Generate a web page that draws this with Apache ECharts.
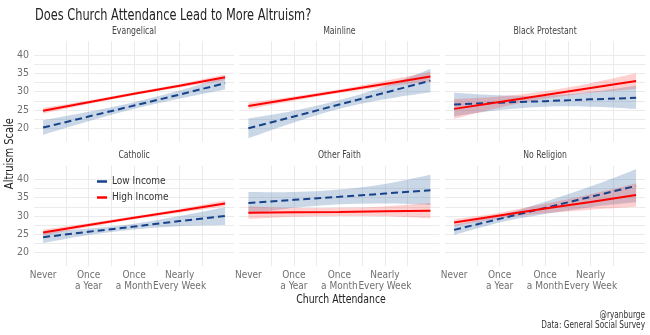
<!DOCTYPE html>
<html>
<head>
<meta charset="utf-8">
<script src="https://cdn.jsdelivr.net/npm/echarts@6/dist/echarts.min.js"></script>
<style>
  html, body { margin: 0; padding: 0; background: #ffffff; }
  #chart { width: 650px; height: 335px; }
</style>
</head>
<body>
<div id="chart"></div>
<script>
// Church attendance (0 = never ... 8 = more than weekly), fitted at these points
const attendX = [0, 2, 4, 6, 8];
const attendTicks = [0, 2, 4, 6];
const attendLabels = ['Never', 'Once\na Year', 'Once\na Month', 'Nearly\nEvery Week'];
const attendGrid = [0, 1, 2, 3, 4, 5, 6, 7, 8];
const altruismTicks = [20, 25, 30, 35, 40];
const altruismGrid = [17.5, 20, 22.5, 25, 27.5, 30, 32.5, 35, 37.5, 40, 42.5];

const traditions = ['Evangelical', 'Mainline', 'Black Protestant', 'Catholic', 'Other Faith', 'No Religion'];

// Low income: fitted altruism scale and 95% band, one row per tradition
const lowFit = [
  [20.2, 23.2, 26.2, 29.2, 32.3],
  [20.0, 23.2, 26.5, 29.7, 33.0],
  [26.5, 27.0, 27.4, 27.9, 28.3],
  [24.2, 25.7, 27.1, 28.6, 30.0],
  [33.5, 34.4, 35.2, 36.1, 37.0],
  [26.2, 29.2, 32.2, 35.2, 38.2]
];
const lowLower = [
  [18.2, 21.9, 25.3, 28.1, 30.6],
  [17.3, 21.6, 25.3, 27.9, 29.8],
  [23.3, 25.0, 25.9, 25.9, 25.3],
  [22.6, 24.8, 26.3, 27.2, 27.5],
  [30.4, 32.2, 33.2, 33.4, 33.0],
  [24.8, 28.2, 30.5, 32.4, 33.7]
];
const lowUpper = [
  [22.2, 24.5, 27.1, 30.3, 34.0],
  [22.7, 24.8, 27.7, 31.5, 36.2],
  [29.7, 29.0, 28.9, 29.9, 31.6],
  [25.7, 26.6, 27.9, 30.0, 32.4],
  [36.5, 36.5, 37.2, 38.7, 41.2],
  [27.6, 30.2, 33.9, 38.0, 42.7]
];

// High income: fitted altruism scale and 95% band
const highFit = [
  [24.8, 27.1, 29.4, 31.6, 33.9],
  [26.1, 28.1, 30.1, 32.1, 34.1],
  [25.3, 27.2, 29.1, 31.0, 32.9],
  [25.5, 27.5, 29.5, 31.4, 33.4],
  [30.9, 31.0, 31.1, 31.3, 31.4],
  [28.2, 30.1, 32.0, 33.8, 35.7]
];
const highLower = [
  [24.0, 26.6, 29.0, 31.1, 33.1],
  [25.2, 27.5, 29.6, 31.3, 32.8],
  [22.6, 25.7, 28.1, 29.7, 30.8],
  [24.7, 27.0, 29.1, 30.9, 32.6],
  [29.2, 29.8, 30.0, 29.9, 29.3],
  [27.3, 29.3, 30.7, 31.7, 32.5]
];
const highUpper = [
  [25.6, 27.6, 29.8, 32.1, 34.7],
  [27.0, 28.7, 30.6, 32.9, 35.4],
  [28.0, 28.7, 30.1, 32.3, 35.0],
  [26.3, 28.0, 29.9, 31.9, 34.2],
  [32.6, 32.2, 32.2, 32.6, 33.5],
  [29.1, 30.9, 33.3, 35.9, 38.9]
];

const FONT = "'DejaVu Sans Condensed', 'DejaVu Sans', sans-serif";
const LOW_COLOR = '#17428a';
const HIGH_COLOR = '#ff0000';
const LOW_BAND = 'rgba(60, 110, 170, 0.28)';
const HIGH_BAND = 'rgba(255, 40, 40, 0.22)';
const GRID_COLOR = '#ebebeb';

// facet layout (3 columns x 2 rows)
const colLeft = [34, 239.3, 445];
const rowTop = [41.2, 165.5];
const panelW = 200.2;
const panelH = 100.5;
const yMin = 16.35, yMax = 43.75;
const xMin = -0.4, xMax = 8.4;

// smooth curve through screen points (Catmull-Rom as cubic Bezier segments)
function curveThrough(pts) {
  let d = '';
  for (let k = 0; k < pts.length - 1; k++) {
    const p0 = pts[k - 1] || pts[k], p1 = pts[k], p2 = pts[k + 1], p3 = pts[k + 2] || pts[k + 1];
    const c1 = [p1[0] + (p2[0] - p0[0]) / 6, p1[1] + (p2[1] - p0[1]) / 6];
    const c2 = [p2[0] - (p3[0] - p1[0]) / 6, p2[1] - (p3[1] - p1[1]) / 6];
    d += ` C${c1[0]},${c1[1]} ${c2[0]},${c2[1]} ${p2[0]},${p2[1]}`;
  }
  return d;
}

function bandSeries(i, lower, upper, color, key) {
  return {
    type: 'custom', name: key + 'Band' + i, xAxisIndex: i, yAxisIndex: i,
    silent: true, z: 1,
    encode: { x: 0, y: [1, 2] },
    data: attendX.map((x, j) => [x, lower[i][j], upper[i][j]]),
    renderItem: (params, api) => {
      if (params.dataIndex !== 0) return null;
      const up = attendX.map((x, j) => api.coord([x, upper[i][j]]));
      const lo = attendX.map((x, j) => api.coord([x, lower[i][j]])).reverse();
      const pathData = `M${up[0][0]},${up[0][1]}` + curveThrough(up) +
        ` L${lo[0][0]},${lo[0][1]}` + curveThrough(lo) + ' Z';
      return { type: 'path', shape: { pathData }, style: { fill: color, stroke: null } };
    }
  };
}

const grids = [], xAxes = [], yAxes = [], series = [], texts = [];

texts.push({
  type: 'text', x: 35, y: 16, scaleX: 0.79,
  style: { text: 'Does Church Attendance Lead to More Altruism?', fontFamily: FONT, fontSize: 16,
           fill: '#222', textAlign: 'left', textVerticalAlign: 'middle' }
});

traditions.forEach((name, i) => {
  const col = i % 3, row = Math.floor(i / 3);
  grids.push({ left: colLeft[col], top: rowTop[row], width: panelW, height: panelH, containLabel: false });

  xAxes.push({
    gridIndex: i, type: 'value', min: xMin, max: xMax,
    axisLine: { show: false },
    axisTick: { show: false, customValues: attendGrid },
    splitLine: { show: true, showMinLine: false, showMaxLine: false, lineStyle: { color: GRID_COLOR, width: 1 } },
    axisLabel: {
      show: row === 1,
      customValues: attendTicks,
      margin: 4,
      fontFamily: FONT, fontSize: 10, color: '#707070', lineHeight: 11,
      verticalAlign: 'top',
      formatter: v => {
        const k = attendTicks.indexOf(Math.round(v));
        return k >= 0 ? attendLabels[k] : '';
      }
    }
  });

  yAxes.push({
    gridIndex: i, type: 'value', min: yMin, max: yMax,
    axisLine: { show: false },
    axisTick: { show: false, customValues: altruismGrid },
    splitLine: { show: true, showMinLine: false, showMaxLine: false, lineStyle: { color: GRID_COLOR, width: 1 } },
    axisLabel: {
      show: col === 0,
      customValues: altruismTicks,
      margin: 5,
      fontFamily: FONT, fontSize: 10.5, color: '#707070'
    }
  });

  // facet strip label
  texts.push({
    type: 'text', x: colLeft[col] + panelW / 2, y: rowTop[row] - 10, scaleX: 0.82,
    style: { text: name, fontFamily: FONT, fontSize: 10.5, fill: '#444',
             textAlign: 'center', textVerticalAlign: 'middle' }
  });

  series.push(bandSeries(i, lowLower, lowUpper, LOW_BAND, 'low'));
  series.push(bandSeries(i, highLower, highUpper, HIGH_BAND, 'high'));

  series.push({
    type: 'line', name: 'Low Income', xAxisIndex: i, yAxisIndex: i,
    symbol: 'none', z: 3, silent: true,
    lineStyle: { color: LOW_COLOR, width: 2, type: [7, 4] },
    itemStyle: { color: LOW_COLOR },
    data: attendX.map((x, j) => [x, lowFit[i][j]])
  });
  series.push({
    type: 'line', name: 'High Income', xAxisIndex: i, yAxisIndex: i,
    symbol: 'none', z: 4, silent: true,
    lineStyle: { color: HIGH_COLOR, width: 2 },
    itemStyle: { color: HIGH_COLOR },
    data: attendX.map((x, j) => [x, highFit[i][j]])
  });
});

texts.push({
  type: 'text', x: 341, y: 300, scaleX: 0.83,
  style: { text: 'Church Attendance', fontFamily: FONT, fontSize: 12.5, fill: '#222',
           textAlign: 'center', textVerticalAlign: 'middle' }
});
texts.push({
  type: 'text', x: 10, y: 153.6, rotation: Math.PI / 2, scaleX: 0.88,
  style: { text: 'Altruism Scale', fontFamily: FONT, fontSize: 12.5, fill: '#222',
           textAlign: 'center', textVerticalAlign: 'middle' }
});
texts.push({
  type: 'text', x: 645, y: 315.7, scaleX: 0.82,
  style: { text: '@ryanburge', fontFamily: FONT, fontSize: 10, fill: '#333',
           textAlign: 'right', textVerticalAlign: 'middle' }
});
texts.push({
  type: 'text', x: 645, y: 325.7, scaleX: 0.82,
  style: { text: 'Data: General Social Survey', fontFamily: FONT, fontSize: 10, fill: '#333',
           textAlign: 'right', textVerticalAlign: 'middle' }
});

const chart = echarts.init(document.getElementById('chart'), null, { renderer: 'canvas' });
chart.setOption({
  animation: false,
  backgroundColor: '#ffffff',
  grid: grids,
  xAxis: xAxes,
  yAxis: yAxes,
  legend: {
    data: [
      { name: 'Low Income', icon: 'rect' },
      { name: 'High Income', icon: 'rect' }
    ],
    orient: 'vertical', left: 92, top: 171,
    itemWidth: 10, itemHeight: 2.5, itemGap: 5,
    selectedMode: false,
    textStyle: { fontFamily: FONT, fontSize: 10, color: '#333', lineHeight: 11 }
  },
  graphic: texts,
  series: series
});
</script>
</body>
</html>
